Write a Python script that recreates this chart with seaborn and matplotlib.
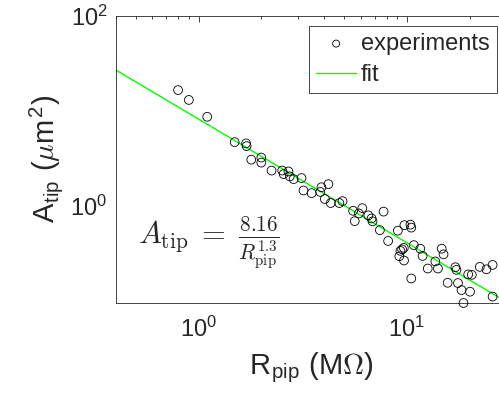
import matplotlib
matplotlib.use("Agg")
import matplotlib.pyplot as plt
import matplotlib.ticker as mticker
import seaborn as sns

r_pip = [0.797, 0.898, 1.10, 1.49, 1.69, 1.70, 1.79, 2.00, 2.00, 2.24,
         2.52, 2.56, 2.70, 2.74, 2.86, 3.12, 3.19, 3.49, 3.84, 3.89,
         4.20, 4.04, 4.31, 4.74, 4.91, 5.52, 5.62, 5.88, 6.11, 6.53,
         6.77, 6.84, 7.73, 7.42, 8.13, 9.05, 9.73, 10.4, 10.5, 10.8,
         9.31, 9.49, 9.67, 9.20, 9.69, 10.5, 11.6, 11.9, 12.6, 13.7,
         14.1, 14.7, 15.0, 15.7, 17.1, 17.3, 17.6, 18.3, 18.7, 19.7,
         20.5, 20.1, 22.4, 24.1, 25.8, 25.8]
a_tip = [16.5, 13.0, 8.65, 4.68, 4.54, 4.25, 3.06, 3.22, 2.85, 2.35,
         2.35, 2.16, 2.30, 2.04, 1.91, 1.96, 1.45, 1.36, 1.40, 1.57,
         1.69, 1.18, 1.07, 1.07, 1.12, 0.886, 0.690, 0.832, 0.946, 0.794,
         0.737, 0.687, 0.869, 0.555, 0.427, 0.548, 0.626, 0.634, 0.590, 0.386,
         0.336, 0.348, 0.361, 0.295, 0.266, 0.172, 0.354, 0.297, 0.219, 0.260,
         0.219, 0.354, 0.309, 0.155, 0.226, 0.212, 0.154, 0.130, 0.095, 0.190,
         0.188, 0.125, 0.228, 0.215, 0.239, 0.111]

# power-law fit line end points
fit_r = [0.4, 30]
fit_a = [26.9, 0.098]

sns.set_style("white")
plt.rcParams['font.family'] = ['Liberation Sans', 'DejaVu Sans']
plt.rcParams['axes.edgecolor'] = '0.15'
plt.rcParams['axes.linewidth'] = 0.6

fig = plt.figure(figsize=(4.99, 4.07), dpi=100)
ax = fig.add_axes([0.2319, 0.2555, 0.7826, 0.7059])

sns.lineplot(x=fit_r, y=fit_a, color=(0, 1, 0), lw=1, ax=ax, label='fit', zorder=2)
sns.scatterplot(x=r_pip, y=a_tip, marker='o', s=40, facecolor='none',
                edgecolor='black', linewidth=0.6, ax=ax, label='experiments',
                clip_on=False, zorder=3)

ax.set_xscale('log')
ax.set_yscale('log')
ax.set_xlim(0.4, 30)
ax.set_ylim(0.095, 100)

ax.yaxis.set_major_locator(mticker.FixedLocator([1, 100]))
ax.xaxis.set_major_locator(mticker.FixedLocator([1, 10]))
ax.xaxis.set_major_formatter(mticker.LogFormatterSciNotation())
ax.yaxis.set_major_formatter(mticker.LogFormatterSciNotation())
ax.yaxis.set_minor_locator(mticker.LogLocator(base=10, subs=range(1, 10), numticks=20))
ax.xaxis.set_minor_locator(mticker.LogLocator(base=10, subs=range(1, 10), numticks=20))
ax.xaxis.set_minor_formatter(mticker.NullFormatter())
ax.yaxis.set_minor_formatter(mticker.NullFormatter())

ax.tick_params(which='both', direction='in', top=True, right=True,
               color='0.15', width=0.6)
ax.tick_params(which='major', length=4.5, labelsize=17, pad=6)
ax.tick_params(which='minor', length=2.5)
ax.tick_params(axis='x', which='major', pad=10)

ax.set_xlabel(r'R$_{\mathregular{pip}}$ (M$\Omega$)', fontsize=21,
              math_fontfamily='cm', labelpad=6)
ax.set_ylabel(r'A$_{\mathregular{tip}}$ ($\mu$m$^{\mathregular{2}}$)', fontsize=21,
              math_fontfamily='cm', labelpad=4)

ax.text(0.056, 0.209, r'$A_{\rm tip}\;=\;\frac{8.16}{R_{\rm pip}^{1.3}}$',
        transform=ax.transAxes, fontsize=22, math_fontfamily='cm',
        ha='left', va='center')

handles, labels = ax.get_legend_handles_labels()
order = [labels.index('experiments'), labels.index('fit')]
leg = ax.legend([handles[i] for i in order], [labels[i] for i in order],
                loc='upper right', bbox_to_anchor=(0.9757, 0.9652),
                borderaxespad=0, fontsize=17, fancybox=False, framealpha=1,
                edgecolor='0.15', handlelength=1.7, handletextpad=0.2,
                labelspacing=0.4, borderpad=0.3, markerscale=0.8)
leg.get_frame().set_linewidth(0.6)

fig.savefig('out.png', dpi=100)
